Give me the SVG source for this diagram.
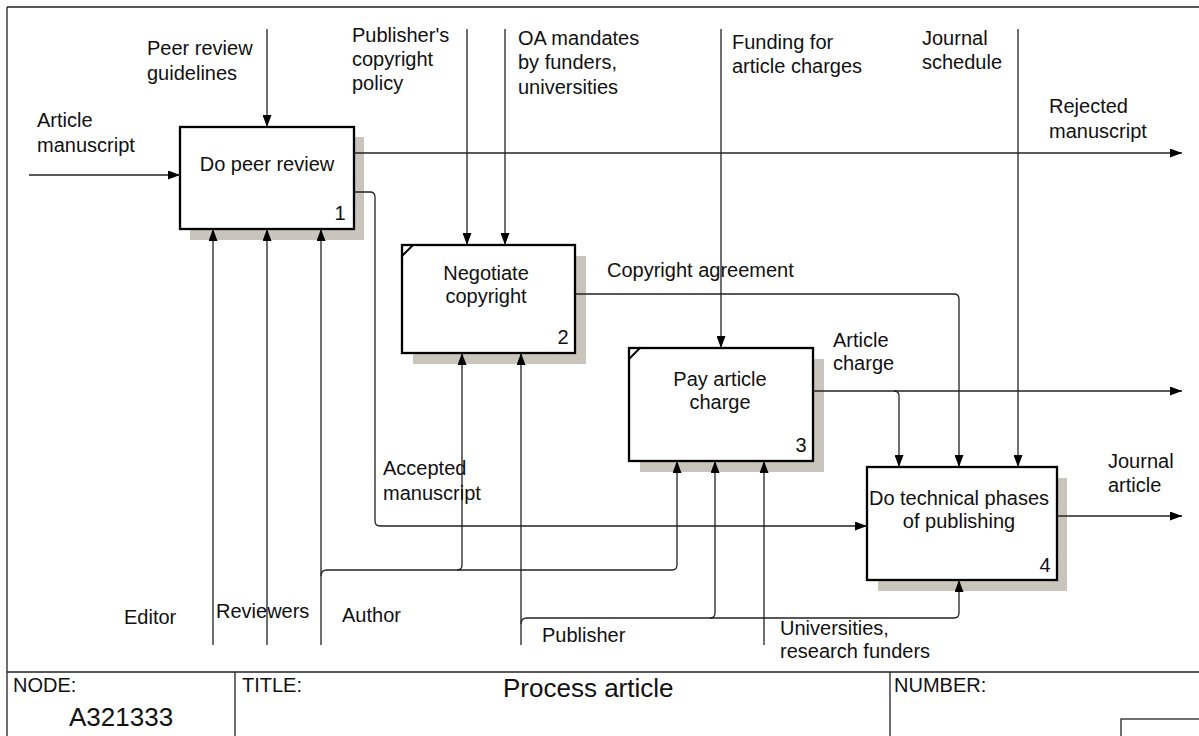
<svg xmlns="http://www.w3.org/2000/svg" width="1199" height="736" viewBox="0 0 1199 736">
<style>
text{font-family:"Liberation Sans",Arial,sans-serif;font-size:20px;fill:#111}
.c{text-anchor:middle}
.box{fill:#fff;stroke:#000;stroke-width:2.3}
.sh{fill:#c9c5bd}
.frame{stroke:#222;stroke-width:1.3;fill:none}
.conn path{fill:none;stroke:#222;stroke-width:1.3}
.arr{marker-end:url(#ah)}
.big{font-size:26px}
</style>
<defs>
<marker id="ah" markerUnits="userSpaceOnUse" markerWidth="12" markerHeight="9" refX="12" refY="4.5" orient="auto">
<path d="M0,0 L12,4.5 L0,9 z" fill="#000"/>
</marker>
</defs>
<rect width="1199" height="736" fill="#fff"/>
<g id="frame" class="frame">
<path d="M7,7 H1199 M7,7 V736 M7,672 H1199 M235,672 V736 M890,672 V736"/>
<rect x="1121" y="719" width="90" height="30"/>
</g>
<g id="titleblock">
<text x="13" y="692">NODE:</text>
<text x="242" y="692">TITLE:</text>
<text x="894" y="692">NUMBER:</text>
<text x="69" y="726" class="big">A321333</text>
<text x="503" y="697" class="big">Process article</text>
</g>
<g id="node1">
<rect class="sh" x="190" y="137" width="174" height="103"/>
<rect class="box" x="180" y="127" width="174" height="102"/>
<text x="267" y="171" class="c">Do peer review</text>
<text x="340" y="220" class="c">1</text>
</g>
<g id="node2">
<rect class="sh" x="413" y="256" width="173" height="108"/>
<rect class="box" x="402" y="245" width="173" height="108"/>
<path d="M402,256 L413,245" stroke="#000" stroke-width="2"/>
<text x="486" y="280" class="c">Negotiate</text>
<text x="486" y="303" class="c">copyright</text>
<text x="563" y="344" class="c">2</text>
</g>
<g id="node3">
<rect class="sh" x="640" y="359" width="184" height="113"/>
<rect class="box" x="629" y="348" width="184" height="113"/>
<path d="M629,359 L640,348" stroke="#000" stroke-width="2"/>
<text x="720" y="386" class="c">Pay article</text>
<text x="720" y="409" class="c">charge</text>
<text x="801" y="452" class="c">3</text>
</g>
<g id="node4">
<rect class="sh" x="878" y="478" width="189" height="113"/>
<rect class="box" x="867" y="467" width="190" height="113"/>
<text x="959" y="505" class="c">Do technical phases</text>
<text x="959" y="528" class="c">of publishing</text>
<text x="1045" y="572" class="c">4</text>
</g>
<g id="connectors" class="conn">
<path class="arr" d="M29,175 H180"/>
<path class="arr" d="M267,29 V127"/>
<path class="arr" d="M354,153 H1182"/>
<path class="arr" d="M354,192 H370 Q375,192 375,197 V521 Q375,526 380,526 H867"/>
<path class="arr" d="M467,29 V245"/>
<path class="arr" d="M505,29 V245"/>
<path class="arr" d="M721,29 V348"/>
<path class="arr" d="M1018,29 V467"/>
<path class="arr" d="M575,294 H954 Q959,294 959,299 V467"/>
<path class="arr" d="M813,391 H1182"/>
<path class="arr" d="M894,391 Q899,391 899,396 V467"/>
<path class="arr" d="M1057,516 H1182"/>
<path class="arr" d="M213,645 V229"/>
<path class="arr" d="M267,645 V229"/>
<path class="arr" d="M321,645 V229"/>
<path class="arr" d="M321,576 Q321,570 327,570 H672 Q677,570 677,565 V461"/>
<path class="arr" d="M457,570 Q462,570 462,565 V353"/>
<path class="arr" d="M521,645 V353"/>
<path class="arr" d="M521,624 Q521,618 527,618 H954 Q959,618 959,613 V580"/>
<path class="arr" d="M710,618 Q715,618 715,613 V461"/>
<path class="arr" d="M764,645 V461"/>
</g>
<g id="labels">
<text x="37" y="127">Article</text>
<text x="37" y="152">manuscript</text>
<text x="147" y="55">Peer review</text>
<text x="147" y="80">guidelines</text>
<text x="352" y="42">Publisher's</text>
<text x="352" y="66">copyright</text>
<text x="352" y="90">policy</text>
<text x="518" y="45">OA mandates</text>
<text x="518" y="69">by funders,</text>
<text x="518" y="94">universities</text>
<text x="732" y="49">Funding for</text>
<text x="732" y="73">article charges</text>
<text x="922" y="45">Journal</text>
<text x="922" y="69">schedule</text>
<text x="1049" y="113">Rejected</text>
<text x="1049" y="138">manuscript</text>
<text x="607" y="277">Copyright agreement</text>
<text x="833" y="347">Article</text>
<text x="833" y="370">charge</text>
<text x="1108" y="468">Journal</text>
<text x="1108" y="492">article</text>
<text x="383" y="475">Accepted</text>
<text x="383" y="500">manuscript</text>
<text x="124" y="624">Editor</text>
<text x="216" y="618">Reviewers</text>
<text x="342" y="622">Author</text>
<text x="542" y="642">Publisher</text>
<text x="780" y="635">Universities,</text>
<text x="780" y="658">research funders</text>
</g>
</svg>
